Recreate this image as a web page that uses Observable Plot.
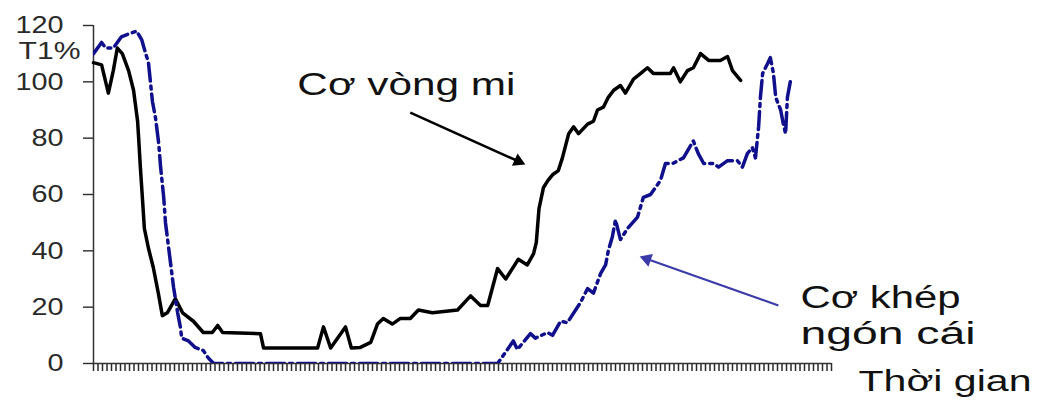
<!DOCTYPE html>
<html>
<head>
<meta charset="utf-8">
<script src="https://cdn.jsdelivr.net/npm/d3@7"></script>
<script src="https://cdn.jsdelivr.net/npm/@observablehq/plot@0.6"></script>
<style>
  html, body { margin: 0; padding: 0; background: #fff; }
  svg { color: #2a2a2a; }
</style>
</head>
<body>
<script>
// Cơ vòng mi (black) : [time, T1%]
const coVongMi = [[0,106.8],[1.8,106],[3.3,96],[4.4,104],[5.3,112],[6.4,110],[7.8,104],[8.9,97],[9.8,86],[10,81],[10.4,70],[10.9,58],[11.3,48],[12.2,41],[13.3,34],[14.4,25],[15.3,17],[16.4,18],[18.2,23],[19.8,18],[22.2,15],[24.4,11],[26.4,11],[27.6,13.5],[28.7,11],[37.1,10.6],[37.8,5.5],[49.8,5.5],[51.1,13],[52.7,5.5],[56,13],[57.3,5.5],[59.3,5.7],[61.6,7.5],[63.1,14],[64.4,16],[66.4,14],[68.2,16],[70.4,16],[72.2,19],[75.3,18],[80.9,19],[83.8,24],[86,20.6],[87.6,20.6],[89.8,33.7],[91.6,30],[94.4,37],[96.4,35],[97.8,39],[98.4,43],[99,55],[100,62.5],[101,65],[102,67],[103.3,68.5],[104.2,73],[105.6,81.6],[106.7,84],[107.8,81.6],[109.8,85],[111.1,86],[112,90],[113.3,91],[114.4,94.5],[115.6,97],[117.1,98.7],[118.2,96],[120,101],[121.6,103],[123.1,105],[124.4,103],[126.4,103],[128.2,103],[128.9,105],[130.4,100],[132,104],[133.3,105],[134.9,110],[136.7,107.6],[139.3,107.6],[140.9,109],[142,104],[143.8,100.5]];

// Cơ khép ngón cái (blue, dash-dot) : [time, T1%]
const coKhepNgonCai = [[0,110],[1.8,114],[2.7,112],[4.4,112],[6.2,116],[7.8,117],[9.6,118],[10.7,115],[11.6,110],[12.2,107],[13.1,93],[13.8,87],[14.5,78],[14.9,70],[15.6,59],[16,50],[16.7,41],[17.8,27],[18.7,18],[19.3,13],[19.6,9],[21.1,8],[22.6,5.7],[24.4,4.6],[25.5,2],[26.7,0],[89.8,0],[93.3,8],[94.2,5],[97.1,10.6],[98.2,9],[100.9,11],[102,10],[103.8,15],[105.3,14.5],[108.2,21.6],[109.8,26.6],[111.1,25],[112.7,32],[113.8,35],[114.4,40],[115.3,45],[116,51],[117.1,44],[118.7,48],[120.9,52],[122.2,59],[123.8,60],[126,65],[127.1,71],[128.7,71],[131.1,73],[133.3,79],[134.4,74.5],[135.6,71],[137.8,71],[138.9,69.7],[140.9,72],[143.1,72],[144.2,69.7],[145.3,74.5],[146.4,76.7],[147.1,73],[147.8,84],[148.2,94.5],[148.7,103],[149.8,106.5],[150.4,108.6],[151.1,103],[151.6,94.5],[152.7,90],[153.3,85],[153.8,81.6],[154.2,94.5],[154.9,100.5]];

const yTicks = [0, 20, 40, 60, 80, 100, 120];
const yTickLabels = ["0", "20", "40", "60", "80", "100", "120"];
const xTicks = d3.range(0, 165);

const yUnitLabel = [{x: 0, y: 111, text: "T1%"}];
const seriesLabels = [
  {x: 45.3, y: 99, text: "Cơ vòng mi"},
  {x: 157.1, y: 23.4, text: "Cơ khép"},
  {x: 157.1, y: 10.6, text: "ngón cái"}
];
const xAxisTitle = [{x: 170, y: -6.4, text: "Thời gian"}];
// arrow shafts (start -> head centre) and heads (centre, rotation in degrees)
const arrowShafts = [
  {x1: 70.4, y1: 89.1, x2: 94.4, y2: 71.8, color: "#000", w: 2.5},
  {x1: 152.2, y1: 20.6, x2: 123.0, y2: 37.1, color: "#3a3aa8", w: 2}
];
const arrowHeads = [
  {x: 94.4, y: 71.8, angle: 114.5, color: "#000"},
  {x: 123.0, y: 37.1, angle: -70.6, color: "#3a3aa8"}
];

const chart = Plot.plot({
  width: 1038,
  height: 400,
  marginLeft: 93,
  marginRight: 207,
  marginTop: 25,
  marginBottom: 37,
  style: {fontFamily: "'Liberation Sans', Arial, sans-serif", background: "#fff", overflow: "visible"},
  x: {domain: [0, 164]},
  y: {domain: [0, 120]},
  marks: [
    Plot.axisY({ticks: yTicks, tickSize: 10, tickPadding: 20, fontSize: 24, label: null,
      tickFormat: d => yTickLabels[yTicks.indexOf(d)], strokeWidth: 1.4}),
    Plot.axisX({ticks: xTicks, tickSize: 8, tickFormat: () => "", label: null, strokeWidth: 1.5}),
    Plot.ruleX([0], {stroke: "#333", strokeWidth: 1.5}),
    Plot.ruleY([0], {stroke: "#333", strokeWidth: 1.5}),
    Plot.line(coVongMi, {x: d => d[0], y: d => d[1], stroke: "#000", strokeWidth: 3.5, strokeLinejoin: "round"}),
    Plot.line(coKhepNgonCai, {x: d => d[0], y: d => d[1], stroke: "#10108c", strokeWidth: 3.5,
      strokeDasharray: "18,5,3,5", strokeLinejoin: "round", clip: true}),
    Plot.link(arrowShafts, {x1: "x1", y1: "y1", x2: "x2", y2: "y2", stroke: "color", strokeWidth: "w"}),
    Plot.dot(arrowHeads, {x: "x", y: "y", symbol: "triangle", r: 5, rotate: "angle", fill: "color", stroke: "none"}),
    Plot.text(yUnitLabel, {x: "x", y: "y", text: "text", textAnchor: "end", dx: -13, fontSize: 24, fill: "#2a2a2a"}),
    Plot.text(seriesLabels, {x: "x", y: "y", text: "text", textAnchor: "start", fontSize: 31, fill: "#111"}),
    Plot.text(xAxisTitle, {x: "x", y: "y", text: "text", textAnchor: "start", fontSize: 29, fill: "#111"})
  ]
});
document.body.append(chart);

// The reference's lettering is horizontally stretched; widen the glyphs accordingly.
const wideTargets = {"Cơ vòng mi": 218, "Cơ khép": 160, "ngón cái": 175, "Thời gian": 173, "T1%": 62};
chart.querySelectorAll("text").forEach(t => {
  const targets = t.querySelectorAll("tspan").length ? t.querySelectorAll("tspan") : [t];
  targets.forEach(el => {
    const w = el.getComputedTextLength();
    if (!(w > 0)) return;
    const content = el.textContent.trim();
    const target = wideTargets[content] != null ? wideTargets[content] : w * 1.2;
    el.setAttribute("textLength", target);
    el.setAttribute("lengthAdjust", "spacingAndGlyphs");
  });
});
</script>
</body>
</html>
